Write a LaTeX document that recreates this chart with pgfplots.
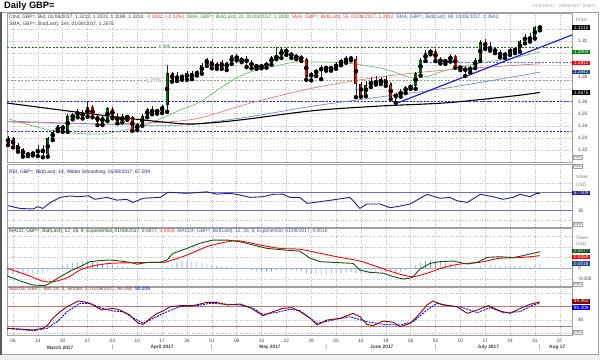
\documentclass[border=0pt]{standalone}
\usepackage{fontspec}
\setmainfont{Liberation Sans}
\usepackage{pgfplots}
\usepackage{pgfplotstable}
\pgfplotsset{compat=1.18}
\newcommand{\sm}{\fontsize{4.8}{5.5}\selectfont}
\newcommand{\hd}{\fontsize{4.9}{5.5}\selectfont}
\definecolor{cgreen}{RGB}{0,100,0}
\definecolor{cred}{RGB}{255,0,0}
\definecolor{sma21}{RGB}{110,190,110}
\definecolor{sma55}{RGB}{240,120,120}
\definecolor{sma89}{RGB}{110,140,190}
\definecolor{gridc}{RGB}{190,190,190}
\definecolor{framec}{RGB}{160,160,160}
\definecolor{navyc}{RGB}{30,30,140}
\definecolor{macdg}{RGB}{20,80,20}
\definecolor{histc}{RGB}{120,155,200}
\definecolor{zeroc}{RGB}{150,180,210}
\definecolor{stk}{RGB}{140,0,0}
\definecolor{stlines}{RGB}{190,120,120}
\definecolor{rsilines}{RGB}{110,110,200}
\definecolor{tagblue}{RGB}{30,70,130}
\definecolor{lvlone}{RGB}{40,100,40}
\definecolor{lvltwo}{RGB}{140,160,130}
\definecolor{txtgray}{RGB}{60,60,60}
\definecolor{hdrred}{RGB}{230,60,60}
\definecolor{hdrgreen}{RGB}{40,150,40}
\definecolor{hdrblue}{RGB}{60,90,150}
\definecolor{trendc}{RGB}{30,30,230}

\pgfplotstableread{
d o h l c
-1 1.2262 1.2312 1.2241 1.2296
0 1.2296 1.2302 1.2222 1.2233
1 1.2238 1.2255 1.2186 1.2200
2 1.2205 1.2212 1.2145 1.2159
3 1.2160 1.2180 1.2150 1.2166
4 1.2168 1.2185 1.2155 1.2172
5 1.2173 1.2241 1.2150 1.2208
6 1.2212 1.2241 1.2140 1.2173
7 1.2165 1.2310 1.2145 1.2296
8 1.2296 1.2365 1.2282 1.2351
9 1.2360 1.2410 1.2355 1.2393
10 1.2398 1.2410 1.2350 1.2368
11 1.2362 1.2490 1.2350 1.2481
12 1.2470 1.2503 1.2453 1.2489
13 1.2481 1.2536 1.2470 1.2522
14 1.2516 1.2525 1.2460 1.2470
15 1.2489 1.2607 1.2475 1.2552
16 1.2552 1.2570 1.2470 1.2481
17 1.2481 1.2489 1.2406 1.2434
18 1.2426 1.2489 1.2406 1.2470
19 1.2453 1.2552 1.2440 1.2544
20 1.2538 1.2552 1.2462 1.2481
21 1.2481 1.2503 1.2420 1.2434
22 1.2434 1.2490 1.2430 1.2481
23 1.2478 1.2490 1.2450 1.2466
24 1.2470 1.2481 1.2359 1.2365
25 1.2371 1.2420 1.2365 1.2412
26 1.2412 1.2489 1.2400 1.2481
27 1.2481 1.2545 1.2470 1.2536
28 1.2538 1.2560 1.2495 1.2503
29 1.2530 1.2540 1.2500 1.2510
30 1.2516 1.2575 1.2505 1.2563
31 1.2575 1.2905 1.2516 1.2833
32 1.2833 1.2847 1.2764 1.2778
33 1.2785 1.2840 1.2770 1.2811
34 1.2805 1.2830 1.2780 1.2800
35 1.2839 1.2850 1.2780 1.2792
36 1.2792 1.2847 1.2785 1.2839
37 1.2839 1.2860 1.2815 1.2830
38 1.2839 1.2910 1.2830 1.2902
39 1.2905 1.2960 1.2894 1.2949
40 1.2937 1.2950 1.2875 1.2883
41 1.2880 1.2925 1.2870 1.2912
42 1.2925 1.2940 1.2870 1.2880
43 1.2880 1.2930 1.2860 1.2918
44 1.2918 1.2985 1.2910 1.2976
45 1.2976 1.2990 1.2940 1.2950
46 1.2950 1.2970 1.2925 1.2935
47 1.2935 1.2975 1.2885 1.2940
48 1.2930 1.2940 1.2875 1.2888
49 1.2888 1.2905 1.2870 1.2894
50 1.2894 1.2910 1.2875 1.2888
51 1.2890 1.2930 1.2880 1.2918
52 1.2918 1.2975 1.2905 1.2965
53 1.2965 1.3048 1.2950 1.2970
54 1.2970 1.3052 1.2960 1.3033
55 1.3033 1.3045 1.2985 1.3000
56 1.3000 1.3010 1.2960 1.2975
57 1.2975 1.2990 1.2950 1.2965
58 1.2965 1.2985 1.2935 1.2950
59 1.2950 1.2955 1.2780 1.2805
60 1.2800 1.2845 1.2775 1.2835
61 1.2835 1.2865 1.2810 1.2855
62 1.2855 1.2900 1.2785 1.2880
63 1.2885 1.2895 1.2855 1.2870
64 1.2870 1.2890 1.2855 1.2878
65 1.2878 1.2920 1.2870 1.2912
66 1.2912 1.2950 1.2900 1.2940
67 1.2930 1.2980 1.2920 1.2960
68 1.2960 1.2978 1.2940 1.2950
69 1.2955 1.2975 1.2636 1.2745
70 1.2745 1.2760 1.2640 1.2655
71 1.2655 1.2770 1.2645 1.2740
72 1.2740 1.2800 1.2720 1.2765
73 1.2765 1.2812 1.2740 1.2755
74 1.2755 1.2800 1.2745 1.2783
75 1.2783 1.2815 1.2730 1.2740
76 1.2740 1.2760 1.2620 1.2635
77 1.2635 1.2665 1.2590 1.2660
78 1.2660 1.2700 1.2640 1.2680
79 1.2680 1.2730 1.2670 1.2718
80 1.2718 1.2745 1.2705 1.2725
81 1.2725 1.2845 1.2705 1.2835
82 1.2835 1.2950 1.2815 1.2945
83 1.2945 1.3028 1.2935 1.3000
84 1.3000 1.3030 1.2990 1.3020
85 1.3015 1.3030 1.2935 1.2950
86 1.2950 1.2965 1.2915 1.2925
87 1.2925 1.2950 1.2910 1.2940
88 1.2940 1.2995 1.2930 1.2975
89 1.2975 1.2985 1.2880 1.2890
90 1.2890 1.2905 1.2860 1.2872
91 1.2872 1.2890 1.2812 1.2855
92 1.2855 1.2895 1.2840 1.2885
93 1.2885 1.2955 1.2875 1.2945
94 1.2945 1.3110 1.2935 1.3090
95 1.3090 1.3115 1.3035 1.3048
96 1.3048 1.3090 1.3020 1.3032
97 1.3032 1.3045 1.3000 1.3010
98 1.3010 1.3020 1.2965 1.2975
99 1.2975 1.3010 1.2960 1.3000
100 1.3000 1.3045 1.2985 1.3030
101 1.3030 1.3050 1.3000 1.3022
102 1.3022 1.3110 1.3010 1.3098
103 1.3125 1.3155 1.3080 1.3110
104 1.3110 1.3170 1.3095 1.3130
105 1.3130 1.3222 1.3120 1.3212
106 1.3212 1.3233 1.3188 1.3210
}\ohlc

\pgfplotstableread{
d v
-1 -0.0025
0 -0.0028
1 -0.0030
2 -0.0032
3 -0.0033
4 -0.0032
5 -0.0030
6 -0.0026
7 -0.0016
8 -0.0006
9 0.0006
10 0.0012
11 0.0018
12 0.0024
13 0.0029
14 0.0032
15 0.0033
16 0.0030
17 0.0026
18 0.0021
19 0.0018
20 0.0015
21 0.0012
22 0.0009
23 0.0006
24 0.0003
25 0.0000
26 -0.0002
27 0.0001
28 0.0002
29 0.0002
30 0.0003
31 0.0008
32 0.0018
33 0.0028
34 0.0034
35 0.0036
36 0.0034
37 0.0030
38 0.0026
39 0.0020
40 0.0015
41 0.0010
42 0.0008
43 0.0006
44 0.0004
45 0.0002
46 -0.0003
47 -0.0006
48 -0.0010
49 -0.0013
50 -0.0015
51 -0.0016
52 -0.0014
53 -0.0010
54 -0.0006
55 -0.0005
56 -0.0008
57 -0.0012
58 -0.0016
59 -0.0022
60 -0.0026
61 -0.0028
62 -0.0029
63 -0.0028
64 -0.0026
65 -0.0024
66 -0.0022
67 -0.0020
68 -0.0018
69 -0.0022
70 -0.0026
71 -0.0024
72 -0.0022
73 -0.0020
74 -0.0018
75 -0.0017
76 -0.0018
77 -0.0020
78 -0.0016
79 -0.0010
80 0.0002
81 0.0015
82 0.0026
83 0.0033
84 0.0036
85 0.0034
86 0.0030
87 0.0025
88 0.0020
89 0.0014
90 0.0008
91 0.0004
92 0.0002
93 0.0003
94 0.0009
95 0.0013
96 0.0016
97 0.0016
98 0.0014
99 0.0011
100 0.0010
101 0.0010
102 0.0011
103 0.0013
104 0.0014
105 0.0016
106 0.0018
}\hist

\pgfplotsset{panel/.style={
  scale only axis, width=565pt, xmin=-1.21, xmax=112.47,
  axis line style={framec, line width=0.6pt},
  xtick={0,5,...,110}, xticklabels={},
  xmajorgrids, ymajorgrids,
  grid style={gridc, dash pattern=on 0.8pt off 1.6pt, line width=0.45pt},
  major tick length=0pt, tick style={draw=none},
  yticklabel pos=right,
  ticklabel style={font=\sm, text=txtgray},
  yticklabel style={xshift=2.5pt},
  scaled y ticks=false,
  /pgf/number format/assume math mode=true,
  clip mode=individual,
}}
\tikzset{tag/.style={anchor=west, inner xsep=0.8pt, inner ysep=0.5pt, font=\sm, text=white, minimum width=18pt},
  auto/.style={anchor=west, draw=framec, fill=gray!8, inner sep=0.6pt, font=\fontsize{4}{4.5}\selectfont, text=gray},
  mlab/.style={font=\sm\bfseries, text=txtgray, inner sep=0pt, yshift=-12.3pt},
  msep/.style={font=\sm, text=txtgray, inner sep=0pt, yshift=-11.8pt}}

\begin{document}
\begin{tikzpicture}
\path[use as bounding box] (0,0) rectangle (600pt,360pt);
\fill[white] (0,0) rectangle (600pt,360pt);
\fill[gray!12] (0,0) rectangle (600pt,5pt);
\draw[framec, line width=0.8pt] (1.2pt,5.5pt) rectangle (598.5pt,348pt);
\draw[gray!70!black, line width=1.2pt] (1pt,5.5pt) -- (1pt,348pt);

% ---------------- main price panel
\begin{axis}[panel, at={(7pt,198pt)}, anchor=south west, height=148.5pt,
  ymin=1.2101, ymax=1.3327,
  ytick={1.22,1.23,1.24,1.25,1.26,1.28,1.31},
  extra y ticks={1.27,1.29,1.30,1.32}, extra y tick labels={}, extra y tick style={grid=major},
  yticklabel style={/pgf/number format/.cd, fixed, fixed zerofill, precision=2}]
\addplot[lvlone, line width=0.6pt, dash pattern=on 2pt off 1.5pt] coordinates {(-1.21,1.305) (112.47,1.305)};
\addplot[lvltwo, line width=0.6pt, dash pattern=on 2pt off 1.5pt] coordinates {(-1.21,1.2775) (112.47,1.2775)};
\addplot[trendc, line width=0.6pt, dash pattern=on 2pt off 1.5pt] coordinates {(-1.21,1.26) (112.47,1.26)};
\addplot[trendc, line width=0.6pt, dash pattern=on 2pt off 1.5pt] coordinates {(-1.21,1.2357) (112.47,1.2357)};
\addplot[trendc!70, line width=0.5pt, dash pattern=on 2pt off 1.5pt] coordinates {(81.7,1.2925) (112.47,1.2925)};
% SMAs
\addplot[sma21, line width=0.7pt, smooth] coordinates {(-0.8,1.2456) (3,1.2410) (7.4,1.2365) (12,1.2340) (17.5,1.2332) (22,1.2360) (27.6,1.2423) (33.6,1.2530) (37.6,1.2596) (42,1.2720) (47.1,1.2836) (53.7,1.2902) (57.1,1.2927) (60.4,1.2927) (67.2,1.2918) (73.8,1.2877) (77,1.2840) (80.5,1.2794) (84,1.2815) (87.3,1.2861) (94,1.2918) (100.6,1.2960) (106,1.3009)};
\addplot[sma55, line width=0.7pt, smooth] coordinates {(-1.2,1.2431) (17.5,1.2415) (30,1.2430) (37.6,1.2464) (47.1,1.2580) (60.4,1.2712) (73.8,1.2803) (87.3,1.2861) (106,1.2912)};
\addplot[sma89, line width=0.7pt, smooth] coordinates {(-1.2,1.2439) (17.5,1.2415) (33.6,1.2406) (47.1,1.2472) (60.4,1.2563) (73.8,1.2638) (87.3,1.2712) (106,1.2842)};
\addplot[black, line width=1.1pt, smooth] coordinates {(-1.2,1.2588) (17.5,1.2489) (33.6,1.2418) (40,1.2425) (47.1,1.2455) (60.4,1.2525) (73.8,1.2563) (87.3,1.2590) (100.6,1.2646) (106,1.2675)};
% trend line
\addplot[trendc, line width=1.2pt] coordinates {(77.5,1.2591) (112.47,1.3150)};
% wicks
\addplot[only marks, mark=none, error bars/.cd, y dir=plus, y explicit, error mark=none,
  error bar style={line width=0.5pt, black!85}]
  table[x=d, y=l, y error plus expr={\thisrow{h}-\thisrow{l}}] {\ohlc};
% body outlines
\addplot[only marks, mark=none, error bars/.cd, y dir=both, y explicit, error mark=none,
  error bar style={line width=3.0pt, black}]
  table[x=d, y expr={(\thisrow{o}+\thisrow{c})/2}, y error expr={abs(\thisrow{c}-\thisrow{o})/2}] {\ohlc};
% up bodies
\addplot[only marks, mark=none, restrict expr to domain={\thisrow{c}-\thisrow{o}}{-0.00001:1},
  error bars/.cd, y dir=both, y explicit, error mark=-,
  error mark options={black, line width=0.4pt, mark size=1.5pt},
  error bar style={line width=2.3pt, cgreen}]
  table[x=d, y expr={(\thisrow{o}+\thisrow{c})/2}, y error expr={abs(\thisrow{c}-\thisrow{o})/2}] {\ohlc};
% down bodies
\addplot[only marks, mark=none, restrict expr to domain={\thisrow{o}-\thisrow{c}}{0.00001:1},
  error bars/.cd, y dir=both, y explicit, error mark=-,
  error mark options={black, line width=0.4pt, mark size=1.5pt},
  error bar style={line width=2.3pt, cred}]
  table[x=d, y expr={(\thisrow{o}+\thisrow{c})/2}, y error expr={abs(\thisrow{c}-\thisrow{o})/2}] {\ohlc};
\node[fill=white, inner sep=0.5pt, font=\sm, text=lvlone] at (axis cs:30.5,1.305) {1.305};
\node[fill=white, inner sep=0.5pt, font=\sm, text=lvltwo!70!black] at (axis cs:28.3,1.2775) {1.2775};
\node[anchor=west, font=\sm, text=gray, inner sep=0pt] at (axis cs:112.47,1.3274) {\hspace{4pt}Price};
\node[tag, fill=black] at (axis cs:112.47,1.3210) {1.3210};
\node[tag, fill=green!50!black] at (axis cs:112.47,1.3007) {1.3009};
\node[tag, fill=red] at (axis cs:112.47,1.2918) {1.2912};
\node[tag, fill=tagblue] at (axis cs:112.47,1.2842) {1.2842};
\node[tag, fill=black] at (axis cs:112.47,1.2675) {1.2675};
\node[auto] at (axis cs:112.6,1.2140) {Auto};
\end{axis}

% ---------------- RSI panel
\begin{axis}[panel, at={(7pt,133pt)}, anchor=south west, height=63pt,
  ymin=-5.4, ymax=131.5, ytick={30}, ymajorgrids=false,
  extra y ticks={10,50,90}, extra y tick labels={}, extra y tick style={grid=major}]
\addplot[rsilines, line width=0.8pt] coordinates {(-1.21,70) (112.47,70)};
\addplot[rsilines, line width=0.8pt] coordinates {(-1.21,30) (112.47,30)};
\addplot[navyc, line width=0.9pt] coordinates {(-1,40.9) (1.4,35) (4,33.7) (5,38.7) (6,35) (7.4,47) (9.5,59) (11.5,62) (13.5,60.4) (15.1,62.6) (16.5,54.8) (18.9,59) (20.9,53) (22.9,54.8) (24.1,48) (26.2,57) (29.6,59) (31.2,70) (35,67.8) (39,71) (41,66) (43.7,67.8) (45.7,64) (47.7,59) (50.3,60.4) (52.3,65.6) (54.3,66) (55.7,59) (57.7,59) (59.2,46) (61.8,49.6) (65.2,54.8) (67.8,59) (69.8,35) (71.2,44.6) (73.8,44.6) (75.9,36.5) (77.9,40) (79.9,44.6) (83.3,65.6) (85.9,57) (87.9,59) (89.3,51.7) (91.4,48) (94,65.6) (96.6,60.4) (98.6,54.8) (100.6,59) (102,65.6) (104,60.4) (105.4,67.8) (106,67.0)};
\node[anchor=west, font=\sm, text=gray, inner sep=0pt] at (axis cs:112.47,103) {\hspace{4pt}Value};
\node[anchor=west, font=\sm, text=gray, inner sep=0pt] at (axis cs:112.47,87) {\hspace{4pt}USD};
\node[tag, fill=navyc] at (axis cs:112.47,68) {67.009};
\node[auto] at (axis cs:112.6,126) {Auto};
\node[auto] at (axis cs:112.6,0) {Auto};
\end{axis}

% ---------------- MACD panel
\begin{axis}[panel, at={(7pt,74pt)}, anchor=south west, height=58pt,
  ymin=-0.00827, ymax=0.01883, ytick={-0.005,0}, yticklabels={-0.005,0}, ymajorgrids=false,
  extra y ticks={-0.005,0.005,0.01,0.015}, extra y tick labels={}, extra y tick style={grid=major}]
\addplot[zeroc, line width=1.1pt] coordinates {(-1.21,0) (112.47,0)};
\addplot[ybar, bar width=0.6pt, bar shift=0pt, fill=histc, draw=none] table[x=d, y=v] {\hist};
\addplot[red, line width=0.9pt, smooth] coordinates {(-1.2,0.0000) (2.8,-0.0031) (6,-0.0060) (8,-0.0063) (10.9,-0.0044) (13.5,-0.0008) (16.1,0.0011) (19.5,0.0023) (24.1,0.0026) (29.6,0.0028) (31,0.0031) (35,0.0062) (39,0.0101) (43.1,0.0124) (45.7,0.0128) (49.7,0.0109) (53.7,0.0093) (57.7,0.0089) (61.8,0.0070) (65.8,0.0051) (69.8,0.0034) (73.8,0.0003) (77.9,-0.0028) (80.5,-0.0039) (83.3,-0.0023) (86.5,0.0003) (89.9,0.0020) (93.9,0.0028) (98,0.0047) (102,0.0050) (106,0.0059)};
\addplot[macdg, line width=0.9pt] coordinates {(-1.2,-0.0035) (1.4,-0.0059) (4,-0.0078) (6.4,-0.0081) (7.4,-0.0070) (9.5,-0.0039) (11.5,-0.0013) (13.5,0.0008) (15.5,0.0031) (17.5,0.0036) (19.5,0.0039) (21.5,0.0034) (23.5,0.0028) (25,0.0019) (27,0.0028) (29.6,0.0028) (31,0.0039) (32.2,0.0070) (35,0.0093) (37.6,0.0117) (40.2,0.0132) (43.1,0.0132) (45.7,0.0124) (48.3,0.0109) (51.1,0.0093) (54.3,0.0086) (57.7,0.0080) (59.8,0.0047) (61.8,0.0031) (65.8,0.0026) (68.4,0.0023) (69.8,-0.0008) (71.8,-0.0019) (74.5,-0.0023) (76.5,-0.0039) (78.5,-0.0050) (80.3,-0.0044) (81.9,-0.0003) (83.9,0.0023) (85.9,0.0031) (88.5,0.0034) (91.4,0.0020) (93.4,0.0028) (95.4,0.0051) (98,0.0054) (100.6,0.0050) (102.6,0.0059) (104.6,0.0070) (106,0.0077)};
\node[anchor=west, font=\sm, text=gray, inner sep=0pt] at (axis cs:112.47,0.0142) {\hspace{4pt}Value};
\node[anchor=west, font=\sm, text=gray, inner sep=0pt] at (axis cs:112.47,0.0114) {\hspace{4pt}USD};
\node[tag, fill=macdg] at (axis cs:112.47,0.0082) {0.0077};
\node[tag, fill=red] at (axis cs:112.47,0.0052) {0.0059};
\node[tag, fill=tagblue] at (axis cs:112.47,0.0022) {0.0018};
\node[auto] at (axis cs:112.6,-0.0073) {Auto};
\end{axis}

% ---------------- Stochastics panel
\begin{axis}[panel, at={(7pt,25pt)}, anchor=south west, height=48pt,
  ymin=-5, ymax=139, ytick={40}, ymajorgrids=false,
  extra y ticks={0,40,120}, extra y tick labels={}, extra y tick style={grid=major},
  xticklabels={06,13,20,27,03,10,17,24,01,08,15,22,29,05,12,19,26,03,10,17,24,31,07},
  xticklabel style={yshift=-0.5pt}]
\addplot[stlines, line width=0.7pt] coordinates {(-1.21,80) (112.47,80)};
\addplot[stlines, line width=0.7pt] coordinates {(-1.21,20) (112.47,20)};
\addplot[blue, line width=0.9pt, dash pattern=on 2pt off 1pt] coordinates {(-1.2,15) (4,8) (6.8,15) (8.9,35) (10.9,65) (13.5,90) (15.5,90) (17.5,77) (20.1,67) (22.1,65) (24.1,47) (26.2,30) (28.2,45) (31,65) (33.6,80) (37,83) (39.6,90) (42.3,88) (45.7,85) (48.3,75) (50.3,57) (53.1,63) (55.7,72) (57.7,68) (61.2,30) (64.4,40) (67.8,50) (71.2,35) (74.5,27) (77.9,25) (80.5,35) (83.3,70) (85.3,90) (87.9,83) (90.5,77) (93.4,62) (96,77) (98.6,62) (102,65) (104.6,85) (106,90.2)};
\addplot[stk, line width=0.9pt] coordinates {(-1.2,15) (1.4,13) (4,10) (6,15) (7,25) (8,45) (9.5,65) (10.9,80) (13.1,97) (14.9,93) (16.1,85) (17.9,70) (20.1,75) (21.5,70) (23.5,55) (25.2,30) (26.2,27) (27.6,45) (29,60) (30.2,67) (31.6,80) (33.6,83) (36.2,83) (39,93) (41,93) (43.1,85) (45.7,88) (47.7,77) (50.3,53) (52.3,65) (54.3,75) (56.1,77) (57.7,66) (59.8,45) (61.2,25) (63.2,40) (65.8,45) (68.4,60) (69.8,50) (71.2,27) (72.4,23) (74.5,37) (76.5,33) (77.9,20) (79.9,30) (81.9,60) (83.3,85) (84.5,97) (86.5,85) (89.3,80) (91.4,60) (93.4,70) (95.6,83) (98,67) (100,60) (102.4,77) (104,87) (106,94.5)};
\node[tag, fill=stk] at (axis cs:112.47,96) {94.492};
\node[tag, fill=blue] at (axis cs:112.47,77) {90.209};
\node[auto] at (axis cs:112.6,3) {Auto};
\node[mlab] at (axis cs:9.5,-5) {March 2017};
\node[mlab] at (axis cs:30,-5) {April 2017};
\node[mlab] at (axis cs:51.7,-5) {May 2017};
\node[mlab] at (axis cs:74.2,-5) {June 2017};
\node[mlab] at (axis cs:95.6,-5) {July 2017};
\node[mlab] at (axis cs:109.5,-5) {Aug 17};
\node[msep] at (axis cs:20,-5) {|};
\node[msep] at (axis cs:40,-5) {|};
\node[msep] at (axis cs:63,-5) {|};
\node[msep] at (axis cs:85,-5) {|};
\node[msep] at (axis cs:106,-5) {|};
\end{axis}

% ---------------- texts
\node[anchor=west, font=\fontsize{9.3}{10}\selectfont\bfseries, inner sep=0pt] at (4pt,353.5pt) {Daily GBP=};
\node[anchor=east, font=\fontsize{4.5}{5}\selectfont, text=gray!70, inner sep=0pt] at (596pt,353.5pt) {01/03/2017 - 09/08/2017 (GMT)};
\node[anchor=west, font=\hd, inner sep=0pt] at (9pt,343pt) {\textcolor{txtgray}{Cmd, GBP=, Bid, 01/08/2017, 1.3212, 1.3233, 1.3188, 1.3210,} \textcolor{hdrred}{-0.0002, (-0.02\%),} \textcolor{hdrgreen}{SMA, GBP=, Bid(Last), 21, 01/08/2017, 1.3009,} \textcolor{hdrred}{SMA, GBP=, Bid(Last), 55, 01/08/2017, 1.2912,} \textcolor{hdrblue}{SMA, GBP=, Bid(Last), 89, 01/08/2017, 1.2842,}};
\node[anchor=west, font=\hd, inner sep=0pt, text=txtgray] at (9pt,336pt) {SMA, GBP=, Bid(Last), 144, 01/08/2017, 1.2675};
\node[anchor=west, font=\hd, inner sep=0pt, text=navyc] at (9pt,188pt) {RSI, GBP=, Bid(Last), 14, Wilder Smoothing, 01/08/2017, 67.009};
\node[anchor=west, font=\hd, inner sep=0pt] at (9pt,128.5pt) {\textcolor{macdg}{MACD, GBP=, Bid(Last), 12, 26, 9, Exponential, 01/08/2017, 0.0077,} \textcolor{hdrred}{0.0059,} \textcolor{hdrblue}{MACDF, GBP=, Bid(Last), 12, 26, 9, Exponential, 01/08/2017, 0.0018}};
\node[anchor=west, font=\hd, inner sep=0pt] at (9pt,71pt) {\textcolor{stk!80!white}{StochS, GBP=, Bid, 14, 3, Simple, 3, 01/08/2017, 94.492,} \textcolor{blue}{90.209}};
\end{tikzpicture}
\end{document}
